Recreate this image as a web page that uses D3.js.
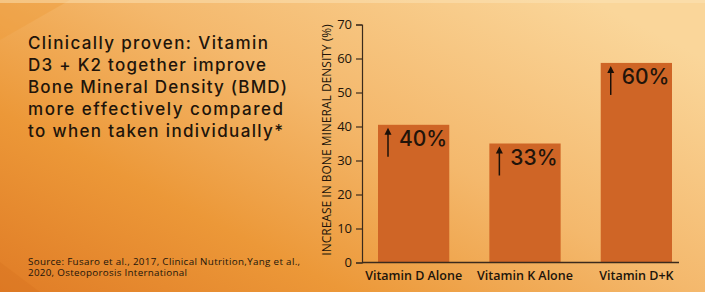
<!DOCTYPE html>
<html lang="en">
<head>
  <meta charset="UTF-8" />
  <title>Vitamin D3 + K2 BMD</title>
  <style>
    html, body {
      margin: 0;
      padding: 0;
      width: 705px;
      height: 292px;
      overflow: hidden;
    }
    svg { display: block; }
    text { font-family: "Open Sans", sans-serif; fill: #21140a; }
  </style>
</head>
<body>
  <svg id="chart" width="705" height="292"></svg>

  <script src="https://d3js.org/d3.v7.min.js"></script>
  <script>
    const categories = ["Vitamin D Alone", "Vitamin K Alone", "Vitamin D+K"];
    const values = [40.5, 35, 58.7];
    const valueLabels = ["40%", "33%", "60%"];
    const yTicks = [0, 10, 20, 30, 40, 50, 60, 70];
    const titleLines = [
      "Clinically proven: Vitamin",
      "D3 + K2 together improve",
      "Bone Mineral Density (BMD)",
      "more effectively compared",
      "to when taken individually*"
    ];
    const sourceLines = [
      "Source: Fusaro et al., 2017, Clinical Nutrition,Yang et al.,",
      "2020, Osteoporosis International"
    ];
    const yTitle = "INCREASE IN BONE MINERAL DENSITY (%)";

    const width = 705, height = 292;
    const svg = d3.select("#chart");

    // stretch a text row to a target width using letter spacing
    function fitWidth(sel, target) {
      sel.each(function () {
        const w = this.getComputedTextLength();
        const n = this.textContent.length;
        if (n > 1) d3.select(this).attr("letter-spacing", ((target - w) / (n - 1)).toFixed(2));
      });
    }

    // background gradient
    const defs = svg.append("defs");
    const grad = defs.append("linearGradient")
      .attr("id", "bg")
      .attr("x1", "0").attr("y1", "1")
      .attr("x2", "1").attr("y2", "0.2");
    grad.append("stop").attr("offset", "0%").attr("stop-color", "#e07c26");
    grad.append("stop").attr("offset", "30%").attr("stop-color", "#ec9838");
    grad.append("stop").attr("offset", "60%").attr("stop-color", "#f4b86c");
    grad.append("stop").attr("offset", "100%").attr("stop-color", "#fad69a");
    svg.append("rect").attr("width", width).attr("height", height).attr("fill", "url(#bg)");

    // faint diagonal shapes
    svg.append("path").attr("d", "M0,262 L40,292 L0,292 Z").attr("fill", "#d87320").attr("opacity", 0.35);
    svg.append("path").attr("d", "M0,0 L70,0 L0,40 Z").attr("fill", "#ee9a3a").attr("opacity", 0.4);

    // light strip on top
    svg.append("rect").attr("width", width).attr("height", 3).attr("fill", "#fbe3b8").attr("opacity", 0.5);

    // scales
    const y = d3.scaleLinear().domain([0, 70]).range([262.5, 24.5]);
    const x = d3.scaleBand().domain(categories).range([378, 672]).paddingInner(0.36).paddingOuter(0);

    // bars
    svg.append("g").selectAll("rect")
      .data(values)
      .join("rect")
      .attr("x", (d, i) => x(categories[i]))
      .attr("y", d => y(d))
      .attr("width", x.bandwidth())
      .attr("height", d => y(0) - y(d))
      .attr("fill", "#cf6526");

    // y axis
    const yAxis = d3.axisLeft(y).tickValues(yTicks).tickSize(6).tickPadding(4);
    const gy = svg.append("g").attr("transform", "translate(362,0)").call(yAxis);
    gy.select(".domain").attr("stroke", "#3a2a1c").attr("stroke-width", 1.2);
    gy.selectAll(".tick line").attr("stroke", "#3a2a1c").attr("stroke-width", 1.2);
    gy.selectAll(".tick text")
      .style("font-family", "'Open Sans', sans-serif")
      .style("font-size", "13px")
      .attr("fill", "#2a1d12");

    // x axis baseline
    svg.append("line")
      .attr("x1", 362).attr("x2", 679)
      .attr("y1", y(0)).attr("y2", y(0))
      .attr("stroke", "#3a2a1c").attr("stroke-width", 1.4);

    // category labels
    svg.append("g").selectAll("text")
      .data(categories)
      .join("text")
      .attr("x", d => x(d) + x.bandwidth() / 2)
      .attr("y", 280)
      .attr("text-anchor", "middle")
      .style("font-size", "12.5px")
      .style("font-weight", 600)
      .text(d => d);

    // value labels with arrows
    const vg = svg.append("g").selectAll("g")
      .data(values)
      .join("g")
      .attr("transform", (d, i) => `translate(${x(categories[i]) + 10},${y(d)})`);
    vg.append("line")
      .attr("x1", 0).attr("x2", 0)
      .attr("y1", 9).attr("y2", 32)
      .attr("stroke", "#1a1008").attr("stroke-width", 1.5);
    vg.append("path")
      .attr("d", "M0,3 L-3.5,10 L3.5,10 Z")
      .attr("fill", "#1a1008");
    vg.append("text")
      .attr("x", 11)
      .attr("y", 21)
      .style("font-family", "Inter, sans-serif")
      .style("font-size", "21px")
      .style("font-weight", 500)
      .text((d, i) => valueLabels[i]);

    // y axis title
    svg.append("text")
      .attr("transform", `translate(331,${(24 + 256) / 2}) rotate(-90)`)
      .attr("text-anchor", "middle")
      .style("font-size", "12px")
      .style("font-weight", 500)
      .attr("fill", "#2a1d12")
      .text(yTitle);

    // headline
    const head = svg.append("g").selectAll("text")
      .data(titleLines)
      .join("text")
      .attr("x", 28)
      .attr("y", (d, i) => 49 + i * 22)
      .style("font-family", "Inter, sans-serif")
      .style("font-size", "17px")
      .style("font-weight", 500)
      .text(d => d);
    // line widths
    const headWidths = [240, 238, 259, 255, 255];
    head.each(function (d, i) { fitWidth(d3.select(this), headWidths[i]); });

    // source
    const src = svg.append("g").selectAll("text")
      .data(sourceLines)
      .join("text")
      .attr("x", 28)
      .attr("y", (d, i) => 264.5 + i * 11.5)
      .style("font-size", "9.8px")
      .text(d => d);
    const srcWidths = [272, 159];
    src.each(function (d, i) { fitWidth(d3.select(this), srcWidths[i]); });
  </script>
</body>
</html>
